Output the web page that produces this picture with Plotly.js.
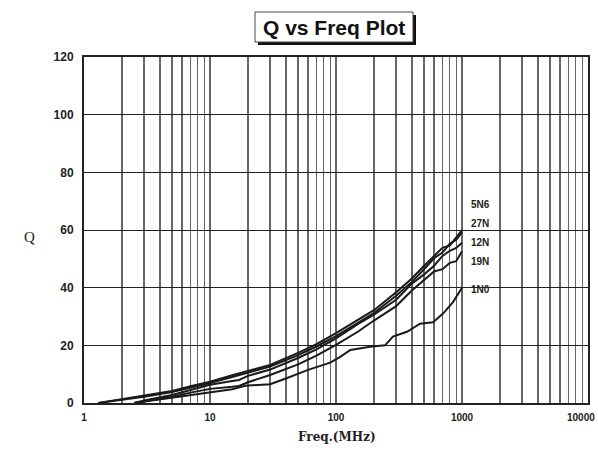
<!DOCTYPE html>
<html>
<head>
<meta charset="utf-8">
<script src="https://cdn.plot.ly/plotly-3.0.1.min.js"></script>
<style>html,body{margin:0;padding:0;background:#fff;}#chart{width:598px;height:451px;}</style>
</head>
<body>
<div id="chart"></div>
<script>
// ---- data ----
const f5N6 = [1.3, 2, 3, 5, 7, 10, 15, 20, 30, 50, 70, 100, 150, 200, 300, 400, 500, 600, 700, 800, 900, 1000];
const q5N6 = [0, 1.3, 2.5, 4.2, 5.8, 7.4, 9.6, 11.2, 13.2, 17.4, 20.4, 24.2, 28.8, 32.2, 38.4, 43.2, 47.6, 50.8, 53.8, 54.6, 57.4, 60];
const f27N = [1.3, 2, 3, 5, 7, 10, 15, 20, 30, 50, 70, 100, 150, 200, 300, 400, 500, 600, 700, 800, 900, 1000];
const q27N = [0, 1.1, 2.2, 3.8, 5.3, 6.9, 9.0, 10.6, 12.6, 16.6, 19.6, 23.2, 27.8, 31.2, 37.2, 42.0, 46.4, 50.2, 52.2, 55.2, 56.6, 59.2];
const f12N = [2.5, 3, 5, 7, 10, 15, 17, 20, 30, 50, 70, 100, 150, 200, 300, 400, 500, 600, 700, 800, 900, 1000];
const q12N = [0, 0.9, 2.8, 4.6, 6.3, 7.6, 8.0, 9.4, 11.6, 15.6, 18.6, 22.4, 27.4, 30.6, 35.8, 41.4, 44.6, 47.6, 51.0, 52.8, 53.8, 55.6];
const f19N = [2.5, 3, 5, 7, 10, 15, 17, 20, 30, 50, 70, 100, 150, 200, 300, 400, 500, 600, 700, 800, 900, 1000];
const q19N = [0, 0.6, 2.2, 3.6, 4.9, 5.6, 5.9, 7.2, 9.7, 13.4, 16.4, 20.2, 24.8, 28.6, 33.6, 39.0, 42.6, 45.6, 46.4, 48.6, 49.2, 52.6];
const f1N0 = [2.5, 5, 10, 15, 19, 30, 40, 60, 90, 108, 130, 186, 245, 283, 366, 464, 589, 707, 848, 1000];
const q1N0 = [0, 1.8, 3.6, 4.8, 6.0, 6.5, 8.5, 11.5, 14.0, 16.0, 18.4, 19.5, 20.0, 23.0, 24.7, 27.5, 28.0, 31.0, 35.0, 40.0];

const seriesNames = ["5N6", "27N", "12N", "19N", "1N0"];
const labelQ = [68.9, 62.3, 55.7, 49.0, 39.3];

const xTickVals = [1, 10, 100, 1000, 10000];
const xTickText = ["1", "10", "100", "1000", "10000"];
const yTickVals = [0, 20, 40, 60, 80, 100, 120];

const titleText = "Q vs Freq Plot";
const xTitle = "Freq.(MHz)";
const yTitle = "Q";

// ---- build ----
const W = 598, H = 451, L = 84, R = 10, T = 57, B = 48;
const pw = W - L - R, ph = H - T - B;
function px2paperX(p) { return (p - L) / pw; }
function px2paperY(p) { return (H - B - p) / ph; }

const xs = [f5N6, f27N, f12N, f19N, f1N0];
const ys = [q5N6, q27N, q12N, q19N, q1N0];
const traces = xs.map((x, i) => ({
  x: x, y: ys[i], type: 'scatter', mode: 'lines', name: seriesNames[i],
  line: {color: '#1a1a1a', width: 2}, hoverinfo: 'skip', cliponaxis: false
}));

const annotations = seriesNames.map((n, i) => ({
  text: '<b>' + n + '</b>', x: Math.log10(1130), y: labelQ[i], xref: 'x', yref: 'y',
  xanchor: 'left', yanchor: 'middle', showarrow: false,
  font: {family: 'Liberation Sans, Arial, sans-serif', size: 10, color: '#222'}
}));

// the last x tick label, kept inside the page at the right edge
annotations.push({
  text: '<b>' + xTickText[4] + '</b>', xref: 'paper', yref: 'paper', x: px2paperX(597), y: px2paperY(417),
  xanchor: 'right', yanchor: 'middle', showarrow: false,
  font: {family: 'Liberation Sans, Arial, sans-serif', size: 10, color: '#222'}
});
// title text (box drawn with shapes)
annotations.push({
  text: '<b>' + titleText + '</b>', xref: 'paper', yref: 'paper', x: px2paperX(334), y: px2paperY(27.5),
  xanchor: 'center', yanchor: 'middle', showarrow: false,
  font: {family: 'Liberation Sans, Arial, sans-serif', size: 21, color: '#111'}
});
// axis titles
annotations.push({
  text: yTitle, xref: 'paper', yref: 'paper', x: px2paperX(29), y: px2paperY(237),
  xanchor: 'center', yanchor: 'middle', showarrow: false,
  font: {family: 'Liberation Serif, Times New Roman, serif', size: 15, color: '#222'}
});
annotations.push({
  text: '<b>' + xTitle + '</b>', xref: 'paper', yref: 'paper', x: px2paperX(337), y: px2paperY(437),
  xanchor: 'center', yanchor: 'middle', showarrow: false,
  font: {family: 'DejaVu Serif, serif', size: 12, color: '#222'}
});

const shapes = [
  {type: 'rect', xref: 'paper', yref: 'paper', layer: 'above',
   x0: px2paperX(258), x1: px2paperX(416), y0: px2paperY(15), y1: px2paperY(45),
   fillcolor: '#111', line: {width: 0}},
  {type: 'rect', xref: 'paper', yref: 'paper', layer: 'above',
   x0: px2paperX(255), x1: px2paperX(413), y0: px2paperY(12), y1: px2paperY(42),
   fillcolor: '#fff', line: {color: '#444', width: 1}}
];

const tickFont = {family: 'Liberation Sans, Arial, sans-serif', size: 11, color: '#222', weight: 'bold'};

const layout = {
  width: W, height: H,
  margin: {l: L, r: R, t: T, b: B},
  paper_bgcolor: '#fff', plot_bgcolor: '#fff',
  showlegend: false,
  xaxis: {
    type: 'log', range: [0, 4], tickvals: xTickVals.slice(0, 4), ticktext: xTickText.slice(0, 4),
    showgrid: true, gridcolor: '#666', gridwidth: 1.3,
    minor: {dtick: 'D1', showgrid: true, gridcolor: '#666', gridwidth: 1.3, ticks: ''},
    showline: true, linecolor: '#222', linewidth: 2, mirror: true,
    ticks: '', tickfont: Object.assign({}, tickFont, {size: 10}), zeroline: false,
    ticklabelstandoff: 4
  },
  yaxis: {
    range: [0, 120], tickvals: yTickVals,
    showgrid: true, gridcolor: '#222', gridwidth: 1,
    showline: true, linecolor: '#222', linewidth: 2, mirror: true,
    ticks: '', tickfont: Object.assign({}, tickFont, {size: 12}), zeroline: false,
    ticklabelstandoff: 6
  },
  shapes: shapes,
  annotations: annotations
};

Plotly.newPlot('chart', traces, layout, {displayModeBar: false, staticPlot: true});
</script>
</body>
</html>
